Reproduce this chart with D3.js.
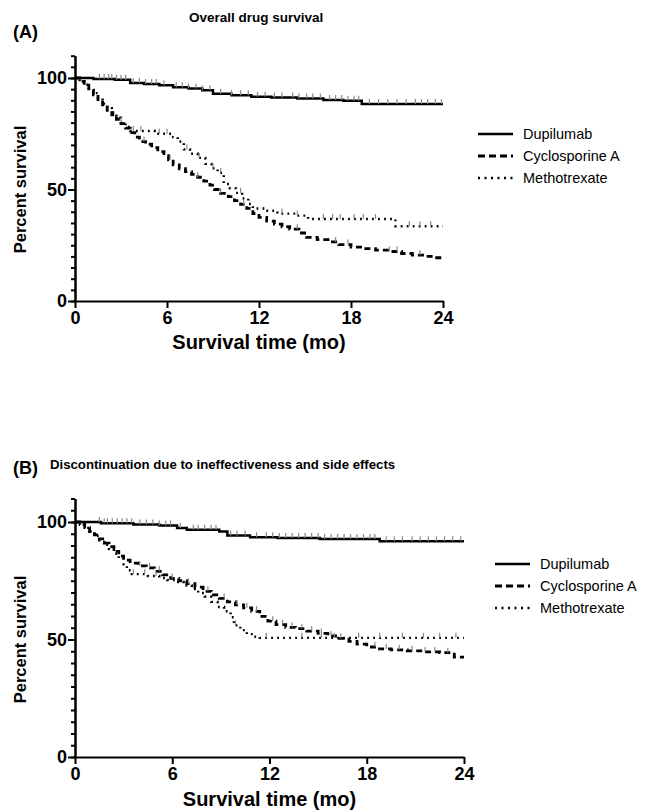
<!DOCTYPE html>
<html>
<head>
<meta charset="utf-8">
<script src="https://cdn.jsdelivr.net/npm/d3@7"></script>
<style>
  body { margin: 0; background: #fff; }
  svg { display: block; font-family: "Liberation Sans", Arial, sans-serif; }
  .axis path, .axis line { stroke: #000; stroke-width: 2; }
  .axis text { font-weight: bold; fill: #000; }
</style>
</head>
<body>
<svg id="chart" width="649" height="812"></svg>
<script>
// Series names and tick labels
var seriesNames = ['Dupilumab', 'Cyclosporine A', 'Methotrexate'];
var timeTicks = [0, 6, 12, 18, 24];
var percentTicks = [0, 50, 100];
var percentMinor = d3.range(0, 115, 5);

// Panel A: overall drug survival, [months, percent] at each step
var dupA = [[0,100],[1.2,99.6],[2.6,99.2],[3.6,97.8],[4.5,97.3],[5.5,96.8],[6.4,95.8],[7.4,95.3],
  [8.3,94.5],[9.0,92.9],[10.2,92.3],[11.5,91.6],[12.8,91.2],[14.5,90.8],[16.2,90.1],[17.5,89.8],[18.7,88.3]];
var cycA = [[0,100],[0.3,98.5],[0.6,96.8],[0.9,94.5],[1.2,92.5],[1.5,90.3],[1.8,88],[2.1,85.5],[2.4,83.5],
  [2.7,81.5],[3.0,79.5],[3.3,77.5],[3.6,75.5],[3.9,73.5],[4.2,71.5],[4.6,70.3],[5.0,68.8],[5.4,67],[5.8,65.2],
  [6.1,63.3],[6.4,61],[6.8,59.3],[7.2,58],[7.6,56.8],[8.0,55.5],[8.4,53.8],[8.8,52],[9.1,50],[9.5,48.3],
  [10.0,46.8],[10.4,45],[10.8,43.3],[11.2,41.5],[11.6,39.2],[12.0,37.5],[12.5,35.8],[13.0,34.5],[13.5,33.3],
  [14.0,32.2],[14.6,30.5],[15.1,28.5],[15.8,27.5],[16.5,26.5],[17.2,25.3],[18.0,24.2],[18.8,23.5],[19.6,22.8],
  [20.5,22.2],[21.3,21.3],[22.0,20.6],[22.8,20],[23.4,19.4]];
var mtxA = [[0,100],[0.3,98.5],[0.6,97],[0.9,95.2],[1.2,93.2],[1.5,91],[1.8,88.5],[2.1,86.5],[2.4,84.5],
  [2.7,82.2],[3.0,80],[3.3,78],[3.6,76.2],[5.2,75],[6.3,73.5],[6.7,71.5],[7.1,68],[7.5,66],[8.0,64.2],
  [8.5,61.5],[8.9,59.5],[9.3,57.5],[9.7,52.5],[10.1,50.5],[10.5,48.5],[10.9,46],[11.3,43.5],[11.6,41.5],
  [12.4,40.5],[13.2,39.2],[14.5,38.3],[15.2,36.8],[20.9,33.5]];

// Panel A censoring times (months)
var dupCensorA = [1.6,1.9,2.2,2.4,2.7,3.0,3.3,3.8,4.2,4.6,5.0,5.3,5.8,6.6,7.0,7.4,7.9,8.3,8.8,9.5,10.2,10.8,
  11.3,11.9,12.4,13.0,13.5,14.2,14.6,15.1,15.5,16.0,16.6,17.0,17.4,17.8,18.2,18.5,19.2,19.8,20.4,21.0,21.6,
  22.2,22.6,23.0,23.5,23.9];
var cycCensorA = [4.5,6.2,8.0,9.5,11.0,14.5,17.0,17.8,20.5,21.0,22.5];
var mtxCensorA = [3.0,3.8,4.3,5.5,6.0,7.3,8.1,9.0,9.5,10.8,13.5,14.5,16.2,16.8,17.3,18.2,18.8,19.6,21.8,22.5,23.2];

// Panel B: discontinuation due to ineffectiveness and side effects
var dupB = [[0,100],[1.6,99.5],[3.6,98.9],[5.2,98.5],[6.3,97.4],[6.9,96.7],[8.9,96],[9.4,94.3],[10.8,93.5],
  [12.5,93.2],[15.1,92.8],[18.8,91.8]];
var cycB = [[0,100],[0.3,99],[0.6,97.6],[0.9,96],[1.2,94.5],[1.5,92.8],[1.8,91],[2.1,89.5],[2.4,87.5],
  [2.7,85.5],[3.0,83.8],[3.4,82.5],[3.9,81.3],[4.4,80.5],[4.9,79],[5.4,77.5],[5.9,76],[6.4,75],[6.9,73.8],
  [7.4,72.3],[7.9,70.5],[8.4,69],[8.9,67.5],[9.4,66],[9.9,64.7],[10.4,63.5],[10.9,62],[11.4,59.8],[11.9,57.8],
  [12.4,56.3],[13.0,55.2],[13.6,54.6],[14.3,53.6],[15.0,52.6],[15.6,51.5],[16.3,50.5],[16.9,49.2],[17.4,48],
  [18.0,46.8],[18.6,46],[19.5,45.6],[20.5,45.2],[21.5,44.7],[22.5,44.4],[23.4,42.5]];
var mtxB = [[0,100],[0.3,98.8],[0.6,97.5],[0.9,95.8],[1.2,94],[1.5,92.2],[1.8,90.3],[2.1,88.5],[2.4,86.5],
  [2.7,84.5],[3.0,82],[3.2,79.5],[3.5,77.8],[4.5,77],[5.2,76.2],[5.7,75.3],[6.2,74.5],[6.7,73],[7.2,71.5],
  [7.6,69.8],[8.0,68.3],[8.4,66],[8.8,63.8],[9.2,62],[9.6,59.5],[9.8,56],[10.2,54],[10.6,52.3],[11.0,51.2],
  [11.4,50.7]];

var dupCensorB = [1.5,1.8,2.0,2.3,2.6,2.9,3.2,3.5,4.0,4.4,4.8,5.2,5.6,5.9,6.5,7.3,7.6,8.0,8.4,8.7,9.6,10.0,
  10.5,11.2,11.8,12.2,12.6,13.0,13.4,13.8,14.2,14.6,15.0,15.4,15.8,16.2,16.6,17.0,17.4,17.8,18.2,18.5,19.2,
  19.7,20.2,20.8,21.3,21.8,22.3,22.8,23.3,23.8];
var cycCensorB = [4.0,4.6,5.2,6.0,7.0,8.2,9.2,10.0,10.6,11.2,12.2,12.8,13.4,14.0,14.6,15.2,15.8,16.4,18.5,
  19.2,20.0,20.8,21.6,22.2,23.0];
var mtxCensorB = [3.6,4.3,5.0,9.9,11.8,14.0,15.2,16.0,17.5,18.8,20.2,21.5,22.5,23.5];

var styles = [
  {width: 2.5, dash: null},
  {width: 2.8, dash: '6,4'},
  {width: 2.4, dash: '1.8,4.2'}
];

var svg = d3.select('#chart');

// survival value at time t for a step curve
function survAt(curve, t) {
  var s = curve[0][1];
  curve.forEach(function(p) { if (p[0] <= t) { s = p[1]; } });
  return s;
}

function drawPanel(cfg) {
  var x = d3.scaleLinear().domain([0, 24]).range([cfg.left, cfg.right]);
  var y = d3.scaleLinear().domain([0, 110]).range([cfg.bottom, cfg.bottom - (cfg.bottom - cfg.y100) * 1.1]);
  var g = svg.append('g');

  // Panel letter and title
  g.append('text').attr('x', 13).attr('y', cfg.letterY)
    .style('font-size', '18px').style('font-weight', 'bold').text(cfg.letter);
  g.append('text').attr('x', cfg.titleX).attr('y', cfg.titleY)
    .style('font-size', cfg.titleSize).style('font-weight', 'bold').text(cfg.title);

  // Curves
  var line = d3.line()
    .x(function(d) { return x(d[0]); })
    .y(function(d) { return y(d[1]); })
    .curve(d3.curveStepAfter);

  cfg.series.forEach(function(curve, i) {
    var pts = curve.concat([[24, curve[curve.length - 1][1]]]);
    g.append('path')
      .attr('d', line(pts))
      .attr('fill', 'none')
      .attr('stroke', '#000')
      .attr('stroke-width', styles[i].width)
      .attr('stroke-dasharray', styles[i].dash);

    // censor marks
    g.selectAll(null)
      .data(cfg.censors[i])
      .enter().append('line')
        .attr('x1', function(t) { return x(t); })
        .attr('x2', function(t) { return x(t); })
        .attr('y1', function(t) { return y(survAt(curve, t)) - 5; })
        .attr('y2', function(t) { return y(survAt(curve, t)); })
        .attr('stroke', '#888')
        .attr('stroke-width', 1.2);
  });

  // Y axis: minor ticks then major ticks with labels
  g.append('g').attr('class', 'axis')
    .attr('transform', 'translate(' + cfg.left + ',0)')
    .call(d3.axisLeft(y).tickValues(percentMinor).tickSize(4).tickSizeOuter(0).tickFormat(''));
  g.append('g').attr('class', 'axis')
    .attr('transform', 'translate(' + cfg.left + ',0)')
    .call(d3.axisLeft(y).tickValues(percentTicks).tickSize(7).tickSizeOuter(0).tickPadding(1))
    .selectAll('text').style('font-size', '18px');

  // X axis
  g.append('g').attr('class', 'axis')
    .attr('transform', 'translate(0,' + cfg.bottom + ')')
    .call(d3.axisBottom(x).tickValues(timeTicks).tickSize(7).tickSizeOuter(0).tickPadding(3))
    .selectAll('text').style('font-size', '18px');

  // Axis titles
  g.append('text')
    .attr('transform', 'translate(26,' + y(50) + ') rotate(-90)')
    .attr('text-anchor', 'middle')
    .style('font-size', '16.5px').style('font-weight', 'bold')
    .text('Percent survival');
  g.append('text')
    .attr('x', (cfg.left + cfg.right) / 2).attr('y', cfg.bottom + cfg.xTitleGap)
    .attr('text-anchor', 'middle')
    .style('font-size', '20px').style('font-weight', 'bold')
    .text('Survival time (mo)');

  // Legend
  var leg = g.append('g');
  seriesNames.forEach(function(name, i) {
    var ly = cfg.legendY + i * 22;
    leg.append('line')
      .attr('x1', cfg.legendX).attr('x2', cfg.legendX + 35)
      .attr('y1', ly).attr('y2', ly)
      .attr('stroke', '#000')
      .attr('stroke-width', i === 1 ? 3 : 2.5)
      .attr('stroke-dasharray', i === 1 ? '7,4' : (i === 2 ? '2,4.5' : null));
    leg.append('text')
      .attr('x', cfg.legendX + 45).attr('y', ly + 5)
      .style('font-size', '14.5px')
      .text(name);
  });
}

drawPanel({
  letter: '(A)', letterY: 38,
  title: 'Overall drug survival', titleX: 189, titleY: 22, titleSize: '13.5px',
  left: 75, right: 443, bottom: 301, y100: 78, xTitleGap: 48,
  series: [dupA, cycA, mtxA],
  censors: [dupCensorA, cycCensorA, mtxCensorA],
  legendX: 478, legendY: 134
});

drawPanel({
  letter: '(B)', letterY: 474,
  title: 'Discontinuation due to ineffectiveness and side effects', titleX: 50, titleY: 469, titleSize: '13.2px',
  left: 75, right: 464, bottom: 757, y100: 522, xTitleGap: 49,
  series: [dupB, cycB, mtxB],
  censors: [dupCensorB, cycCensorB, mtxCensorB],
  legendX: 495, legendY: 564
});
</script>
</body>
</html>
